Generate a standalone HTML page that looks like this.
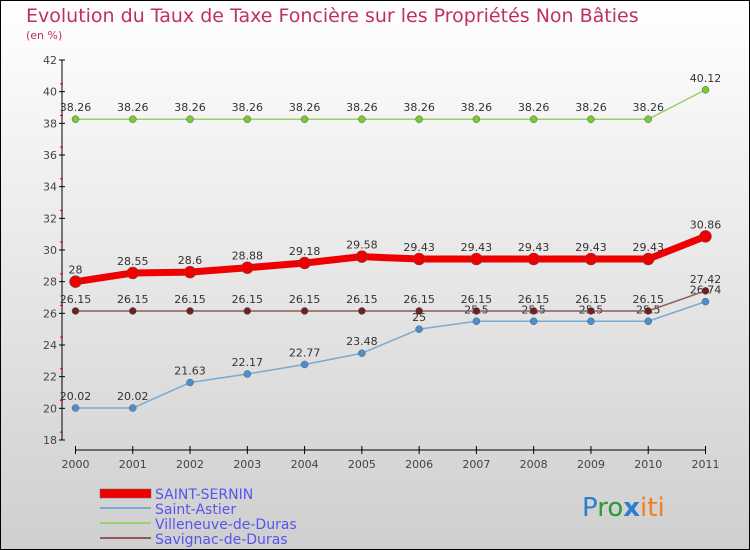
<!DOCTYPE html>
<html><head><meta charset="utf-8"><style>
body{margin:0}
#wrap{width:750px;height:550px;position:relative;overflow:hidden;font-family:"DejaVu Sans","Liberation Sans",sans-serif}
</style></head><body>
<div id="wrap">
<svg id="svg" width="750" height="550" xmlns="http://www.w3.org/2000/svg">
<defs><linearGradient id="bg" x1="0" y1="0" x2="0" y2="1"><stop offset="0" stop-color="#ffffff"/><stop offset="1" stop-color="#cfcfcf"/></linearGradient></defs>
<rect x="0.5" y="0.5" width="749" height="549" fill="url(#bg)" stroke="#000"/>
<text x="26" y="22" font-size="19" fill="#c0305a">Evolution du Taux de Taxe Foncière sur les Propriétés Non Bâties</text>
<text x="26" y="39" font-size="11" fill="#c0305a">(en %)</text>
<g id="axes"></g><g id="series"></g>
<g>
<rect x="100" y="489" width="51" height="9" fill="#ee0000" stroke="#666" stroke-width="0.5"/>
<text x="155" y="499" font-size="14" fill="#5555ee">SAINT-SERNIN</text>
<line x1="100" y1="508" x2="151" y2="508" stroke="#7aaad0" stroke-width="2"/>
<text x="155" y="514" font-size="14" fill="#5555ee">Saint-Astier</text>
<line x1="100" y1="523" x2="151" y2="523" stroke="#99d070" stroke-width="2"/>
<text x="155" y="529" font-size="14" fill="#5555ee">Villeneuve-de-Duras</text>
<line x1="100" y1="538" x2="151" y2="538" stroke="#905858" stroke-width="2"/>
<text x="155" y="544" font-size="14" fill="#5555ee">Savignac-de-Duras</text>
</g>
<text x="582" y="516" font-size="26"><tspan fill="#2a7fd0">P</tspan><tspan fill="#2a9a3a">ro</tspan><tspan fill="#2a7fd0" font-weight="bold">x</tspan><tspan fill="#f08020">iti</tspan></text>
</svg></div>
<script>
const years=["2000","2001","2002","2003","2004","2005","2006","2007","2008","2009","2010","2011"];
const yTicks=[18,20,22,24,26,28,30,32,34,36,38,40,42];
const saintSernin=[28,28.55,28.6,28.88,29.18,29.58,29.43,29.43,29.43,29.43,29.43,30.86];
const saintAstier=[20.02,20.02,21.63,22.17,22.77,23.48,25,25.5,25.5,25.5,25.5,26.74];
const villeneuve=[38.26,38.26,38.26,38.26,38.26,38.26,38.26,38.26,38.26,38.26,38.26,40.12];
const savignac=[26.15,26.15,26.15,26.15,26.15,26.15,26.15,26.15,26.15,26.15,26.15,27.42];
const NS="http://www.w3.org/2000/svg";
function xs(i){return 75.5+i*(705.5-75.5)/(years.length-1);}
function ys(v){return 440-(v-18)*(380/24);}
function mk(t,a,p){const e=document.createElementNS(NS,t);for(const k in a)e.setAttribute(k,a[k]);p.appendChild(e);return e;}
const ax=document.getElementById('axes');
let yl=mk('line',{x1:62,y1:60,x2:62,y2:440,stroke:'#000','stroke-width':1},ax);

let xl=mk('line',{x1:75,y1:450,x2:706,y2:450,stroke:'#000','stroke-width':1},ax);

yTicks.forEach((v,i)=>{const y=ys(v);mk('line',{x1:59,y1:y,x2:65,y2:y,stroke:'#000'},ax);
if(i<yTicks.length-1)mk('line',{x1:60,y1:y-7.9,x2:63,y2:y-7.9,stroke:'#d00'},ax);
const t=mk('text',{x:57,y:y+4,'font-size':11,'text-anchor':'end',fill:'#444'},ax);t.textContent=v;
});
years.forEach((yr,i)=>{const x=xs(i);mk('line',{x1:x,y1:446,x2:x,y2:454,stroke:'#000'},ax);
const t=mk('text',{x:x,y:468,'font-size':11,'text-anchor':'middle',fill:'#444'},ax);t.textContent=yr;
});
const sg=document.getElementById('series');
function draw(name,vals,col,w,r,dot){
const g=mk('g',{},sg);
mk('polyline',{points:vals.map((v,i)=>xs(i)+','+ys(v)).join(' '),fill:'none',stroke:col,'stroke-width':w,'stroke-linejoin':'round'},g);
vals.forEach((v,i)=>{const c=mk('circle',{cx:xs(i),cy:ys(v),r:r,fill:dot,stroke:'#555','stroke-width':0.5},g);

const t=mk('text',{x:xs(i),y:ys(v)-8,'font-size':11,'text-anchor':'middle',fill:'#333'},g);t.textContent=v;});}
draw('series-villeneuve-de-duras',villeneuve,'#99d070',1.5,3.5,'#77cc33');
draw('series-saint-astier',saintAstier,'#7aaad0',1.5,3.5,'#4a90d0');
draw('series-savignac-de-duras',savignac,'#905858',1.5,3.5,'#702020');
draw('series-saint-sernin',saintSernin,'#ee0000',7,6,'#ee0000');
</script></body></html>
